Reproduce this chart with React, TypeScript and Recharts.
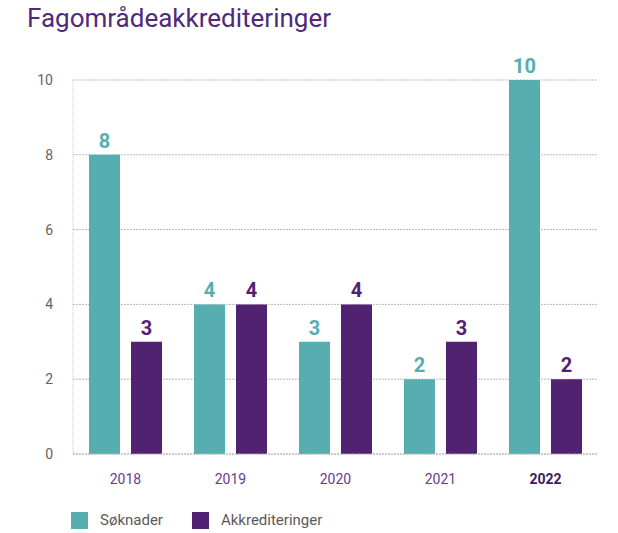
import React from "react";
import { Bar, BarChart, CartesianGrid, LabelList, Legend, XAxis, YAxis } from "recharts";

const years = ["2018", "2019", "2020", "2021", "2022"];
const soknader = [8, 4, 3, 2, 10];
const akkrediteringer = [3, 4, 4, 3, 2];
const yTicks = [0, 2, 4, 6, 8, 10];

const TEAL = "rgb(86 174 176)";
const PURPLE = "rgb(81 34 114)";
const FONT = "Roboto, 'Open Sans', sans-serif";

const rows = years.map((y, i) => ({ year: y, soknader: soknader[i], akkrediteringer: akkrediteringer[i] }));

function YearTick({ x, y, payload }: any) {
  const last = payload.value === years[years.length - 1];
  return (
    <text
      x={x}
      y={y}
      dy="0.71em"
      textAnchor="middle"
      fill={last ? "rgb(65 25 95)" : "rgb(100 60 140)"}
      fontSize={14}
      fontWeight={last ? 700 : 400}
      fontFamily={FONT}
    >
      {payload.value}
    </text>
  );
}

function LegendBox() {
  const items = [
    { label: "Søknader", color: TEAL },
    { label: "Akkrediteringer", color: PURPLE },
  ];
  return (
    <div style={{ display: "flex", gap: 29, paddingLeft: 38, paddingTop: 17, fontFamily: FONT }}>
      {items.map((it) => (
        <div key={it.label} style={{ display: "flex", alignItems: "center", gap: 12 }}>
          <span style={{ width: 17, height: 17, background: it.color, display: "inline-block" }} />
          <span style={{ fontSize: 15, color: "rgb(90 90 90)" }}>{it.label}</span>
        </div>
      ))}
    </div>
  );
}

export default function App() {
  return (
    <div style={{ position: "absolute", left: 0, top: 0, width: 618, height: 533, background: "#fff", fontFamily: FONT }}>
      <div style={{ position: "absolute", left: 27, top: 3, fontSize: 26, fontWeight: 400, color: "rgb(79 42 122)" }}>
        Fagområdeakkrediteringer
      </div>
      <BarChart
        width={618}
        height={533}
        data={rows}
        margin={{ top: 80, right: 20, left: 33, bottom: 4 }}
        barGap={11}
        barCategoryGap={16}
      >
        <CartesianGrid vertical={false} stroke="rgb(185 185 185)" strokeDasharray="2 1" />
        <XAxis
          dataKey="year"
          tick={<YearTick />}
          tickLine={false}
          tickSize={0}
          tickMargin={20}
          height={40}
          axisLine={{ stroke: "rgb(185 185 185)", strokeDasharray: "2 1" }}
        />
        <YAxis
          domain={[0, 10]}
          ticks={yTicks}
          width={40}
          tickLine={false}
          tickSize={0}
          tickMargin={20}
          axisLine={{ stroke: "rgb(200 200 200)", strokeDasharray: "1 1" }}
          tick={{ fill: "rgb(100 100 100)", fontSize: 14, fontFamily: FONT }}
        />
        <Legend verticalAlign="bottom" align="left" height={35} content={<LegendBox />} />
        <Bar dataKey="soknader" name="Søknader" fill={TEAL} barSize={31} isAnimationActive={false}>
          <LabelList dataKey="soknader" position="top" offset={7} fill={TEAL} fontSize={20} fontWeight={700} fontFamily={FONT} />
        </Bar>
        <Bar dataKey="akkrediteringer" name="Akkrediteringer" fill={PURPLE} barSize={31} isAnimationActive={false}>
          <LabelList dataKey="akkrediteringer" position="top" offset={7} fill={PURPLE} fontSize={20} fontWeight={700} fontFamily={FONT} />
        </Bar>
      </BarChart>
    </div>
  );
}
